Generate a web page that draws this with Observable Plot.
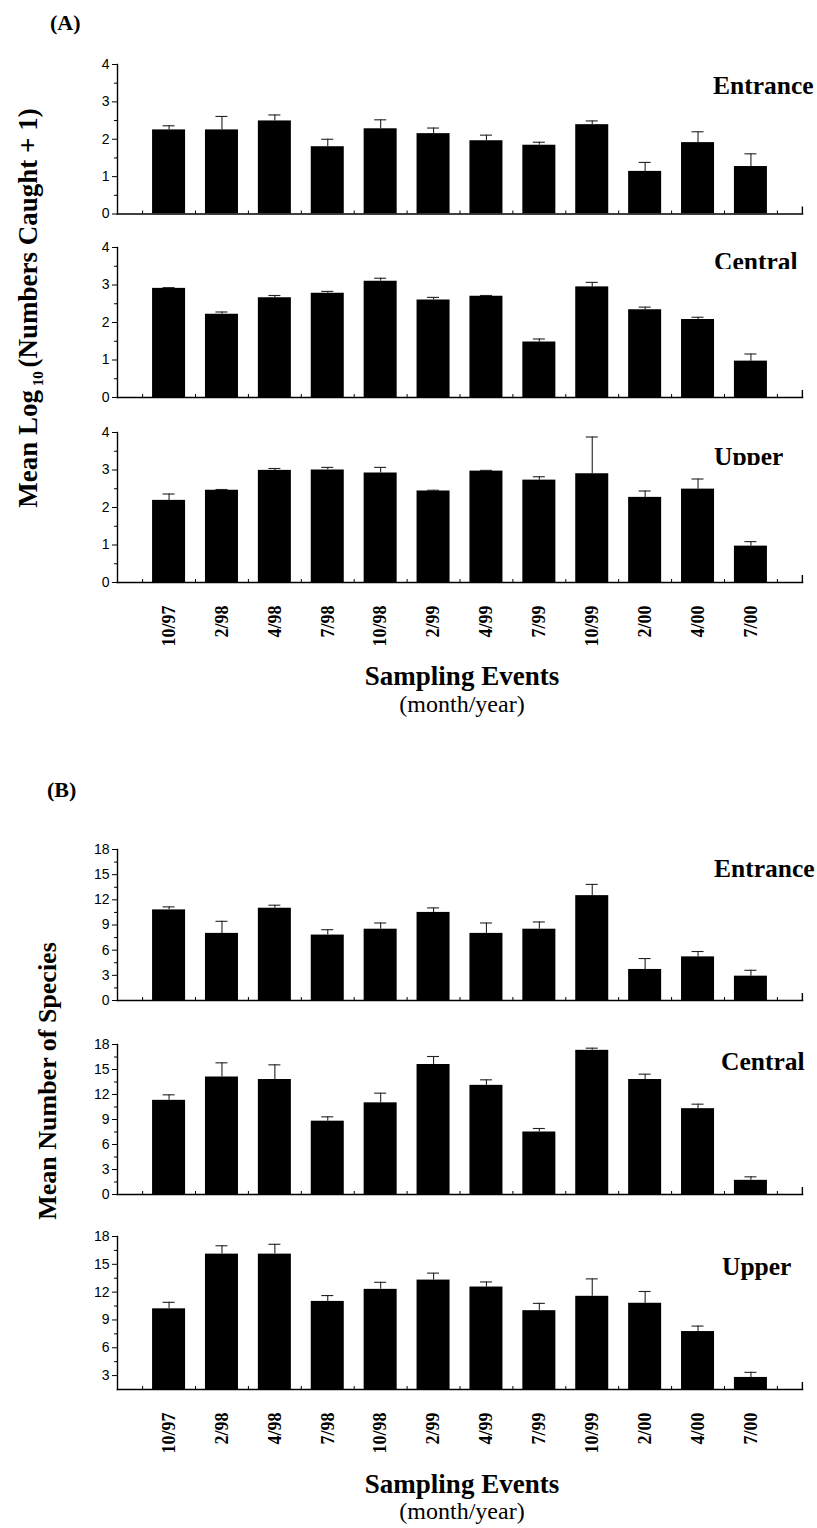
<!DOCTYPE html>
<html>
<head>
<meta charset="utf-8">
<script src="https://cdn.jsdelivr.net/npm/d3@7"></script>
<script src="https://cdn.jsdelivr.net/npm/@observablehq/plot@0.6"></script>
<style>
  body { margin: 0; background: #fff; }
  #page { position: relative; width: 817px; height: 1528px; overflow: hidden; background: #fff;
          font-family: "Liberation Serif", "Times New Roman", serif; color: #000; }
  .abs { position: absolute; white-space: nowrap; line-height: 1; }
  .bold { font-weight: bold; }
  .chart { position: absolute; left: 0; }
  .clip { position: absolute; overflow: hidden; white-space: nowrap; line-height: 1; font-weight: bold; }
</style>
</head>
<body>
<div id="page"></div>
<script>
// Sampling events (month/year)
const events = ["10/97", "2/98", "4/98", "7/98", "10/98", "2/99", "4/99", "7/99", "10/99", "2/00", "4/00", "7/00"];
const sites = ["Entrance", "Central", "Upper"];

// (A) Mean log10(numbers caught + 1) and standard errors
const logEntrance = [2.25, 2.25, 2.49, 1.80, 2.28, 2.15, 1.96, 1.84, 2.39, 1.14, 1.91, 1.27];
const logEntranceSE = [0.11, 0.36, 0.16, 0.20, 0.24, 0.15, 0.15, 0.08, 0.10, 0.24, 0.29, 0.34];
const logCentral = [2.91, 2.22, 2.66, 2.78, 3.10, 2.60, 2.70, 1.48, 2.95, 2.34, 2.08, 0.97];
const logCentralSE = [0.02, 0.06, 0.06, 0.05, 0.08, 0.07, 0.02, 0.08, 0.12, 0.07, 0.06, 0.19];
const logUpper = [2.19, 2.46, 2.99, 3.00, 2.92, 2.44, 2.97, 2.73, 2.90, 2.27, 2.49, 0.97];
const logUpperSE = [0.17, 0.02, 0.05, 0.07, 0.15, 0.02, 0.02, 0.09, 0.98, 0.17, 0.27, 0.12];

// (B) Mean number of species and standard errors
const sppEntrance = [10.8, 8.0, 11.0, 7.8, 8.5, 10.5, 8.0, 8.5, 12.5, 3.7, 5.2, 2.9];
const sppEntranceSE = [0.36, 1.44, 0.36, 0.64, 0.74, 0.54, 1.24, 0.86, 1.34, 1.30, 0.64, 0.70];
const sppCentral = [11.3, 14.1, 13.8, 8.8, 11.0, 15.6, 13.1, 7.5, 17.3, 13.8, 10.3, 1.7];
const sppCentralSE = [0.66, 1.70, 1.76, 0.52, 1.16, 0.96, 0.66, 0.42, 0.26, 0.64, 0.54, 0.42];
const sppUpper = [10.2, 16.1, 16.1, 11.0, 12.3, 13.3, 12.55, 10.0, 11.55, 10.8, 7.75, 2.8];
const sppUpperSE = [0.70, 0.90, 1.06, 0.63, 0.76, 0.75, 0.55, 0.79, 1.88, 1.27, 0.59, 0.55];

// Axis ticks
const logTicks = [0, 1, 2, 3, 4];
const logMinor = [0.5, 1.5, 2.5, 3.5];
const sppTicks = [0, 3, 6, 9, 12, 15, 18];
const sppTicksUpper = [3, 6, 9, 12, 15, 18];
const sppMinor = [1.5, 4.5, 7.5, 10.5, 13.5, 16.5];
const sppMinorUpper = [4.5, 7.5, 10.5, 13.5, 16.5];

const W = 817, ML = 117, MR = 15, MT = 10;
const PAD_IN = 0.376, PAD_OUT = 0.663;
const serif = "Liberation Serif, Times New Roman, serif";
const sans = "Liberation Sans, Arial, sans-serif";
const page = document.getElementById("page");

function addText(html, style, cls = "abs") {
  const d = document.createElement("div");
  d.className = cls;
  d.innerHTML = html;
  Object.assign(d.style, style);
  page.appendChild(d);
  return d;
}

// One bar chart with upward standard-error bars for a site
function barPanel({means, se, domain, ticks, minor, top, h, bottom}) {
  const rows = events.map((event, i) => ({event, mean: means[i], upper: means[i] + se[i]}));
  const mb = bottom ? 80 : 10;
  const step = (W - ML - MR) / (events.length - PAD_IN + 2 * PAD_OUT);
  const chart = Plot.plot({
    width: W,
    height: h + MT + mb,
    marginLeft: ML,
    marginRight: MR,
    marginTop: MT,
    marginBottom: mb,
    style: {fontFamily: sans, fontSize: "14px", color: "#000", background: "transparent", overflow: "visible"},
    x: {type: "band", domain: events, paddingInner: PAD_IN, paddingOuter: PAD_OUT, round: false, axis: null},
    y: {domain, axis: null},
    marks: [
      Plot.barY(rows, {x: "event", y: "mean", fill: "#000", clip: true}),
      Plot.ruleX(rows, {x: "event", y1: "mean", y2: "upper", stroke: "#222", strokeWidth: 1.1}),
      Plot.tickY(rows, {x: "event", y: "upper", insetLeft: 10.5, insetRight: 10.5, stroke: "#222", strokeWidth: 1.1}),
      Plot.frame({anchor: "left", stroke: "#000", strokeWidth: 1.4}),
      Plot.frame({anchor: "bottom", stroke: "#000", strokeWidth: 1.6}),
      // small ticks between sampling events and at the end of the axis
      Plot.tickX(events, {x: d => d, dx: -step / 2, insetTop: h - 3, stroke: "#000", strokeWidth: 1}),
      Plot.tickX([events[events.length - 1]], {x: d => d, dx: step / 2, insetTop: h - 3, stroke: "#000", strokeWidth: 1}),
      Plot.tickX([events[events.length - 1]], {x: d => d, dx: step / 2 + 25, insetTop: h - 7, stroke: "#000", strokeWidth: 1.4}),
      Plot.axisY({ticks, tickSize: 5, tickPadding: 3, tickFormat: d => String(d), fontFamily: sans, fontSize: 14, stroke: "#000"}),
      Plot.axisY({ticks: minor, tickSize: 3, text: null, stroke: "#000"}),
      bottom ? Plot.text(events, {x: d => d, frameAnchor: "bottom", dy: 23, rotate: -90, textAnchor: "end",
        lineAnchor: "middle", fontFamily: serif, fontWeight: "bold", fontSize: 18, fill: "#000"}) : null
    ]
  });
  chart.classList.add("chart");
  chart.style.top = (top - MT) + "px";
  page.appendChild(chart);
}

// Site name; where clipAt is given the name is cut off at that y
function siteLabel(name, left, baseline, clipAt) {
  const fs = 25.5;
  const topY = baseline - 0.8375 * fs;
  const box = document.createElement("div");
  box.className = clipAt != null ? "clip" : "abs bold";
  Object.assign(box.style, {left: left + "px", top: topY + "px", fontSize: fs + "px"});
  if (clipAt != null) box.style.height = (clipAt - topY) + "px";
  box.textContent = name;
  page.appendChild(box);
}

// ---------- (A) ----------
addText("(A)", {left: "50px", top: "12px", fontSize: "22px"}, "abs bold");
addText("Mean Log<span style=\"font-size:15px;position:relative;top:6px\">&nbsp;10&nbsp;</span>(Numbers Caught + 1)",
  {left: "28px", top: "308px", fontSize: "27px", transform: "translate(-50%,-50%) rotate(-90deg)"}, "abs bold");

barPanel({means: logEntrance, se: logEntranceSE, domain: [0, 4], ticks: logTicks, minor: logMinor, top: 64, h: 149.5});
barPanel({means: logCentral, se: logCentralSE, domain: [0, 4], ticks: logTicks, minor: logMinor, top: 247, h: 150});
barPanel({means: logUpper, se: logUpperSE, domain: [0, 4], ticks: logTicks, minor: logMinor, top: 432, h: 150, bottom: true});

siteLabel(sites[0], 713, 94);
siteLabel(sites[1], 714, 270, 269);
siteLabel(sites[2], 714, 465, 465);

addText("Sampling Events", {left: "462px", top: "676px", fontSize: "27px", transform: "translate(-50%,-50%)"}, "abs bold");
addText("(month/year)", {left: "462px", top: "704px", fontSize: "24px", transform: "translate(-50%,-50%)"});

// ---------- (B) ----------
addText("(B)", {left: "47px", top: "779px", fontSize: "22px"}, "abs bold");
addText("Mean Number of Species",
  {left: "48px", top: "1081px", fontSize: "26px", transform: "translate(-50%,-50%) rotate(-90deg)"}, "abs bold");

barPanel({means: sppEntrance, se: sppEntranceSE, domain: [0, 18], ticks: sppTicks, minor: sppMinor, top: 849, h: 151});
barPanel({means: sppCentral, se: sppCentralSE, domain: [0, 18], ticks: sppTicks, minor: sppMinor, top: 1044, h: 150});
barPanel({means: sppUpper, se: sppUpperSE, domain: [1.5, 18], ticks: sppTicksUpper, minor: sppMinorUpper, top: 1236, h: 153, bottom: true});

siteLabel(sites[0], 714, 877);
siteLabel(sites[1], 721, 1070);
siteLabel(sites[2], 722, 1275);

addText("Sampling Events", {left: "462px", top: "1484px", fontSize: "27px", transform: "translate(-50%,-50%)"}, "abs bold");
addText("(month/year)", {left: "462px", top: "1511px", fontSize: "24px", transform: "translate(-50%,-50%)"});
</script>
</body>
</html>
